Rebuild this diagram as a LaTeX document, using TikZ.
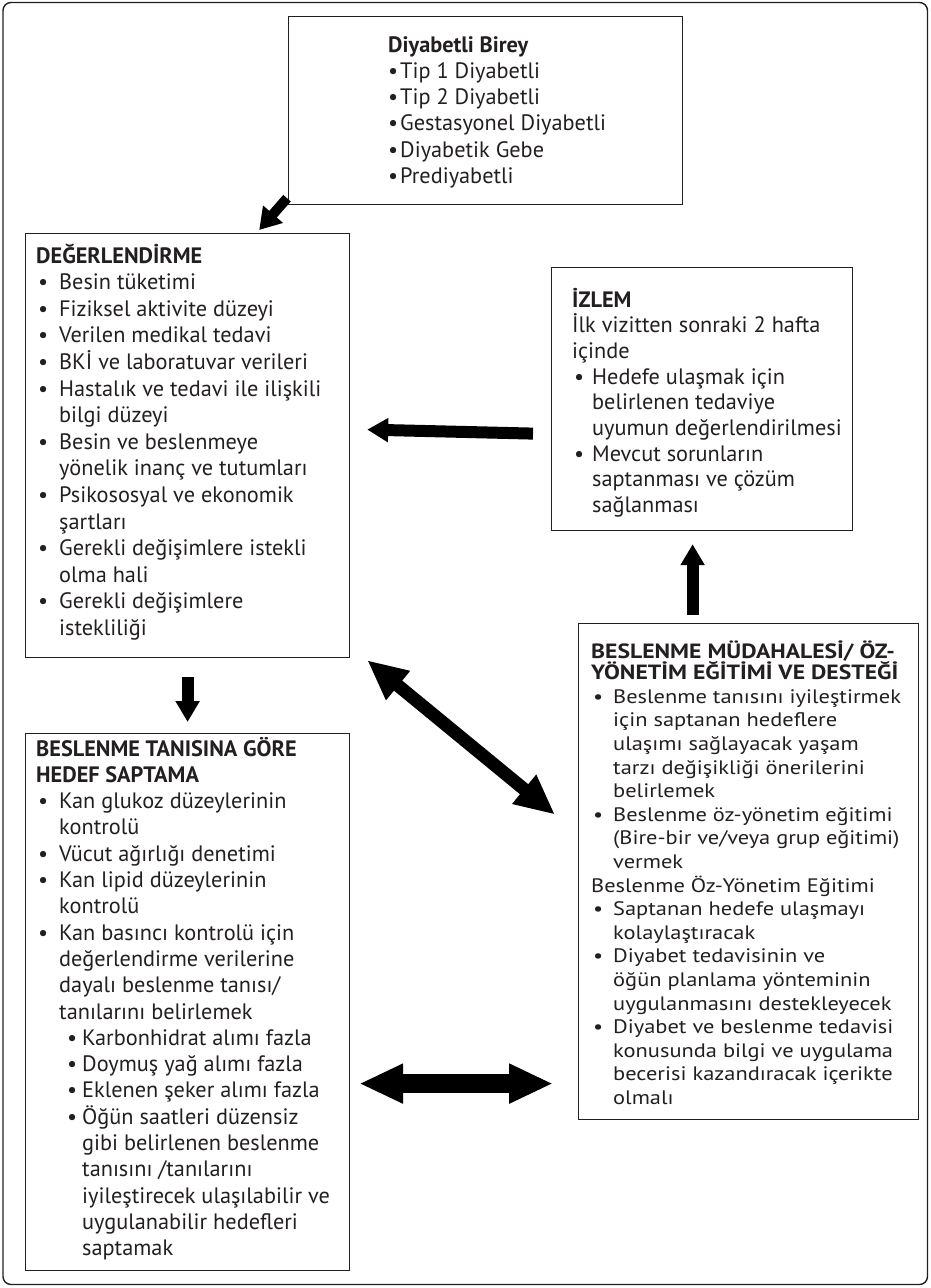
\documentclass[tikz,border=0pt]{standalone}
\usepackage{fontspec}
\setmainfont{PT Sans}
\newfontfamily\widefont[FakeStretch=1.15]{PT Sans}
\usetikzlibrary{arrows.meta,calc}

\definecolor{ink}{HTML}{231F20}

% bullet item with hanging indent, continuation line, nested item
\newcommand\bul[2][23pt]{\makebox[#1][l]{\hspace{2pt}•}#2}
\newcommand\cont[2][23pt]{\hspace*{#1}#2}
\newcommand\subbul[1]{\hspace*{31pt}\makebox[15pt][l]{•}#1}
\newcommand\subcont[1]{\hspace*{46pt}#1}
\newcommand\widetitle[1]{{\fontsize{20.6}{23.6}\selectfont\bfseries #1}}

% text blocks are placed by the baseline of their last line
\tikzset{
  frame/.style={draw=ink, line width=1.4pt, rounded corners=8pt},
  panel/.style={draw=ink, line width=1.2pt, rectangle, inner sep=0pt, anchor=north west},
  body/.style={anchor=base west, inner sep=0pt, align=left, text=ink,
    font=\fontsize{22.3}{26.4}\selectfont},
  widebody/.style={anchor=base west, inner sep=0pt, align=left, text=ink,
    font=\widefont\fontsize{19.5}{23.6}\selectfont},
  slimarrow/.style={draw=black, line width=10pt, -{Triangle[width=25pt,length=21pt]}},
  blockarrow/.style={draw=black, line width=12pt, -{Triangle[width=23pt,length=21pt]}},
  twoway/.style={draw=black, line width=13pt,
    {Triangle[width=35pt,length=40pt]}-{Triangle[width=35pt,length=40pt]}},
  widetwoway/.style={draw=black, line width=19pt,
    {Triangle[width=37pt,length=44pt]}-{Triangle[width=37pt,length=44pt]}}
}

\begin{document}
\begin{tikzpicture}[x=1pt,y=-1pt]
\useasboundingbox (0,0) rectangle (930,1288);
\draw[frame] (3,2.5) rectangle (927.5,1284.5);

% boxes
\node[panel, minimum width=394pt, minimum height=188pt] (indiv) at (288,16) {};
\node[panel, minimum width=324pt, minimum height=424pt] (deger) at (25,233) {};
\node[panel, minimum width=301pt, minimum height=263pt] (izlem) at (551,267) {};
\node[panel, minimum width=340pt, minimum height=496pt] (mudah) at (578,623) {};
\node[panel, minimum width=324pt, minimum height=537pt] (tanis) at (25,733) {};

% box texts
\node[body, font=\fontsize{22.3}{26.3}\selectfont] (indivtext) at (388,183.5) {\textbf{Diyabetli Birey}\\
\makebox[12pt][l]{•}Tip 1 Diyabetli\\
\makebox[12pt][l]{•}Tip 2 Diyabetli\\
\makebox[12pt][l]{•}Gestasyonel Diyabetli\\
\makebox[12pt][l]{•}Diyabetik Gebe\\
\makebox[12pt][l]{•}Prediyabetli};

\node[body, font=\fontsize{22.3}{26.6}\selectfont] (degertext) at (36,635.4) {\textbf{DEĞERLENDİRME}\\
\bul{Besin tüketimi}\\
\bul{Fiziksel aktivite düzeyi}\\
\bul{Verilen medikal tedavi}\\
\bul{BKİ ve laboratuvar verileri}\\
\bul{Hastalık ve tedavi ile ilişkili}\\
\cont{bilgi düzeyi}\\
\bul{Besin ve beslenmeye}\\
\cont{yönelik inanç ve tutumları}\\
\bul{Psikososyal ve ekonomik}\\
\cont{şartları}\\
\bul{Gerekli değişimlere istekli}\\
\cont{olma hali}\\
\bul{Gerekli değişimlere}\\
\cont{istekliliği}};

\node[body, font=\fontsize{22.3}{25.7}\selectfont] (izlemtext) at (572,512.6) {\textbf{İZLEM}\\
İlk vizitten sonraki 2 hafta\\
içinde\\
\bul[20pt]{Hedefe ulaşmak için}\\
\cont[20pt]{belirlenen tedaviye}\\
\cont[20pt]{uyumun değerlendirilmesi}\\
\bul[20pt]{Mevcut sorunların}\\
\cont[20pt]{saptanması ve çözüm}\\
\cont[20pt]{sağlanması}};

\node[widebody] (mudahtext) at (591,1104.4) {\widetitle{BESLENME MÜDAHALESİ/ ÖZ-}\\[-2pt]
\widetitle{YÖNETİM EĞİTİMİ VE DESTEĞİ}\\
\bul[22pt]{Beslenme tanısını iyileştirmek}\\
\cont[22pt]{için saptanan hedeflere}\\
\cont[22pt]{ulaşımı sağlayacak yaşam}\\
\cont[22pt]{tarzı değişikliği önerilerini}\\
\cont[22pt]{belirlemek}\\
\bul[22pt]{Beslenme öz-yönetim eğitimi}\\
\cont[22pt]{(Bire-bir ve/veya grup eğitimi)}\\
\cont[22pt]{vermek}\\
Beslenme Öz-Yönetim Eğitimi\\
\bul[22pt]{Saptanan hedefe ulaşmayı}\\
\cont[22pt]{kolaylaştıracak}\\
\bul[22pt]{Diyabet tedavisinin ve}\\
\cont[22pt]{öğün planlama yönteminin}\\
\cont[22pt]{uygulanmasını destekleyecek}\\
\bul[22pt]{Diyabet ve beslenme tedavisi}\\
\cont[22pt]{konusunda bilgi ve uygulama}\\
\cont[22pt]{becerisi kazandıracak içerikte}\\
\cont[22pt]{olmalı}};

\node[body, font=\fontsize{22.3}{26.3}\selectfont] (tanistext) at (36,1255.7) {\textbf{BESLENME TANISINA GÖRE}\\
\textbf{HEDEF SAPTAMA}\\
\bul{Kan glukoz düzeylerinin}\\
\cont{kontrolü}\\
\bul{Vücut ağırlığı denetimi}\\
\bul{Kan lipid düzeylerinin}\\
\cont{kontrolü}\\
\bul{Kan basıncı kontrolü için}\\
\cont{değerlendirme verilerine}\\
\cont{dayalı beslenme tanısı/}\\
\cont{tanılarını belirlemek}\\
\subbul{Karbonhidrat alımı fazla}\\
\subbul{Doymuş yağ alımı fazla}\\
\subbul{Eklenen şeker alımı fazla}\\
\subbul{Öğün saatleri düzensiz}\\
\subcont{gibi belirlenen beslenme}\\
\subcont{tanısını /tanılarını}\\
\subcont{iyileştirecek ulaşılabilir ve}\\
\subcont{uygulanabilir hedefleri}\\
\subcont{saptamak}};

% connectors
\draw[slimarrow] ($(indiv.south west)+(-1,-7)$) -- ($(deger.north east)+(-91,-3)$);
\draw[blockarrow] ($(izlem.west)+(-18,34.5)$) -- ($(deger.east)+(17,-16)$);
\draw[blockarrow] ($(mudah.north)+(-56,-8)$) -- ($(izlem.south)+(-9.5,13)$);
\draw[blockarrow] ($(deger.south)+(0,19)$) -- ($(tanis.north)+(0,-11)$);
\draw[twoway] ($(deger.south east)+(17,2)$) -- ($(mudah.west)+(-23,-57)$);
\draw[widetwoway] ($(tanis.east)+(9,81.5)$) -- ($(mudah.west)+(-25,212)$);
\end{tikzpicture}
\end{document}
